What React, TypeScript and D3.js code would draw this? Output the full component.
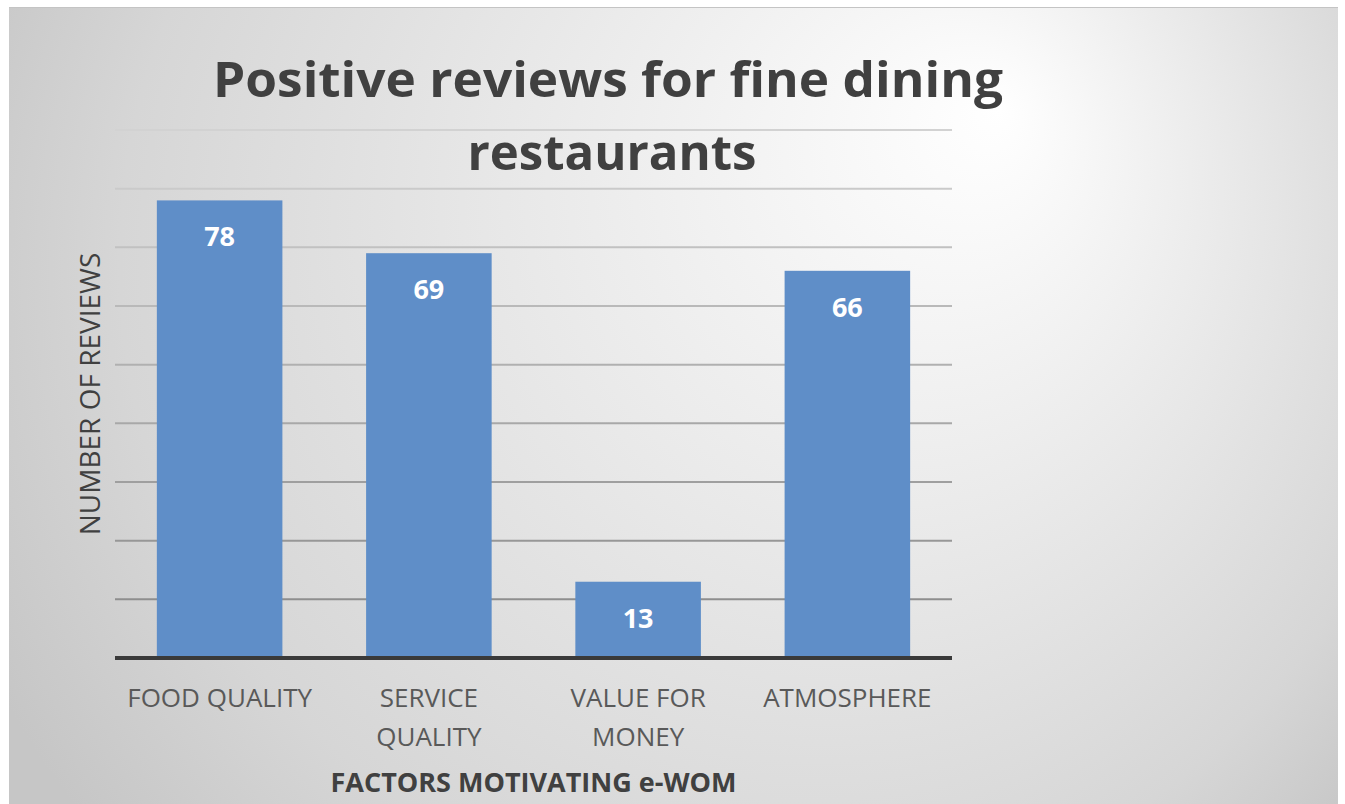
import React from "react";
import * as d3 from "d3";

const categories: string[][] = [["FOOD QUALITY"], ["SERVICE", "QUALITY"], ["VALUE FOR", "MONEY"], ["ATMOSPHERE"]];
const categoryKeys = ["FOOD QUALITY", "SERVICE QUALITY", "VALUE FOR MONEY", "ATMOSPHERE"];
const values = [78, 69, 13, 66];
const yTicks = [0, 10, 20, 30, 40, 50, 60, 70, 80, 90];
const titleLines = ["Positive reviews for fine dining", "restaurants"];
const xTitle = "FACTORS MOTIVATING e-WOM";
const yTitle = "NUMBER OF REVIEWS";

const W = 1345, H = 804;
const plot = { left: 115, right: 952, top: 130, bottom: 658 };
const font = "'Open Sans', 'Liberation Sans', sans-serif";

export default function App() {
  const x = d3.scaleBand<string>().domain(categoryKeys).range([plot.left, plot.right]).paddingInner(0.4).paddingOuter(0.2);
  const y = d3.scaleLinear().domain([0, 90]).range([plot.bottom, plot.top]);
  const gridColor = d3.scaleLinear<string>().domain([90, 10]).range(["#d2d2d2", "#8e8e8e"]);

  return (
    <svg width={W} height={H} style={{ position: "absolute", left: 0, top: 0, fontFamily: font }}>
      <defs>
        <radialGradient id="bg" gradientUnits="userSpaceOnUse" cx={720} cy={300} r={820} fx={1000} fy={110}>
          <stop offset="0" stopColor="#ffffff" />
          <stop offset="0.45" stopColor="#e8e8e8" />
          <stop offset="0.8" stopColor="#d6d6d6" />
          <stop offset="1" stopColor="#c6c6c6" />
        </radialGradient>
      </defs>
      <rect x={0} y={0} width={W} height={H} fill="#ffffff" />
      <rect x={9} y={7} width={1329} height={H - 7} fill="url(#bg)" />
      <line x1={9} x2={1338} y1={7.5} y2={7.5} stroke="#c4c4c4" strokeWidth={1} />
      {yTicks.filter((t) => t > 0).map((t) => (
        <line key={t} x1={plot.left} x2={plot.right} y1={y(t)} y2={y(t)} stroke={gridColor(t)} strokeWidth={2} />
      ))}
      {titleLines.map((l, i) => (
        <text key={l} x={i === 0 ? 608 : 612} y={i === 0 ? 97 : 170} textAnchor="middle" fontSize={48} fontWeight={700}
          fill="#404040" textLength={i === 0 ? 790 : 289} lengthAdjust="spacingAndGlyphs">{l}</text>
      ))}
      {categoryKeys.map((c, i) => (
        <rect key={c} x={x(c)} y={y(values[i])} width={x.bandwidth()} height={y(0) - y(values[i])} fill="#5f8ec8" />
      ))}
      {categoryKeys.map((c, i) => (
        <text key={c + "l"} x={(x(c) as number) + x.bandwidth() / 2} y={y(values[i]) + 46} textAnchor="middle"
          fontSize={27} fontWeight={700} fill="#ffffff">{values[i]}</text>
      ))}
      <line x1={plot.left} x2={plot.right} y1={y(0)} y2={y(0)} stroke="#3a3a3a" strokeWidth={4} />
      {categoryKeys.map((c, i) => (
        <text key={c + "x"} textAnchor="middle" fontSize={26} fill="#595959" fontWeight={400}>
          {categories[i].map((ln, j) => (
            <tspan key={ln} x={(x(c) as number) + x.bandwidth() / 2} y={707 + j * 39}>{ln}</tspan>
          ))}
        </text>
      ))}
      <text x={(plot.left + plot.right) / 2} y={792} textAnchor="middle" fontSize={27} fontWeight={700} fill="#404040">{xTitle}</text>
      <text transform={`translate(100,394) rotate(-90)`} textAnchor="middle" fontSize={28} fill="#404040">{yTitle}</text>
    </svg>
  );
}
